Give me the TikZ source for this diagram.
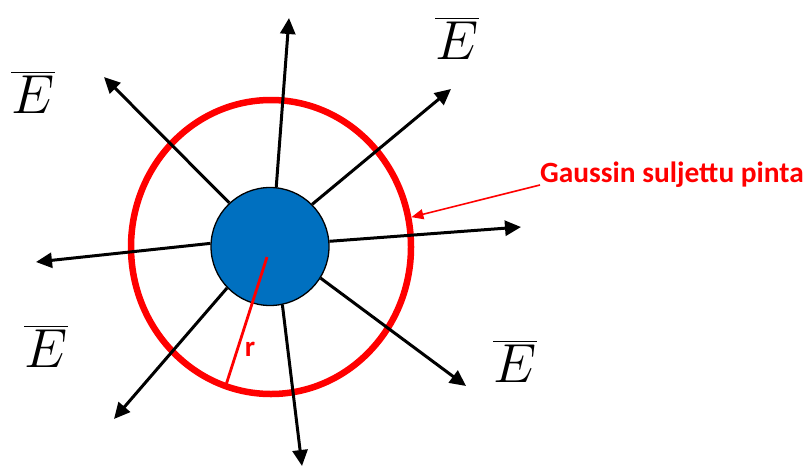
\RequirePackage{fix-cm}
\documentclass[tikz,border=0pt]{standalone}
\usepackage{fontspec}
\usepackage{amsmath}
\newfontfamily\calib{Carlito}
\usetikzlibrary{arrows.meta,positioning,shapes.geometric}
\definecolor{gauss}{HTML}{FF0000}
\definecolor{charge}{HTML}{0070C0}
\begin{document}
\begin{tikzpicture}[x=1pt,y=-1pt,
 field/.style={line width=3pt,-{Triangle[length=16pt,width=15pt]}},
 efield/.style={inner sep=0pt,font=\fontsize{55}{60}\selectfont},
 surface/.style={ellipse,draw=gauss,line width=6.5pt,inner sep=0pt,
 minimum width=280pt,minimum height=294pt},
 q/.style={circle,draw=black,line width=1.3pt,fill=charge,minimum size=118pt,inner sep=0pt},
 note/.style={text=gauss,inner sep=0pt,font=\calib\bfseries\fontsize{29.4}{34}\selectfont}]
\useasboundingbox (0,0) rectangle (805,466);
\node[surface] (surf) at (271,247) {};
\node[q] (q) at (270,246.5) {};
\coordinate (up) at (289,18); \coordinate (ur) at (451,89);
\coordinate (rt) at (521,227); \coordinate (dr) at (466,386);
\coordinate (dn) at (302,466); \coordinate (dl) at (114,419);
\coordinate (lt) at (36,262); \coordinate (ul) at (104,77);
\draw[field] (q.84)--(up); \draw[field] (q.45)--(ur);
\draw[field] (q.5)--(rt); \draw[field] (q.-32)--(dr);
\draw[field] (q.-78)--(dn); \draw[field] (q.224)--(dl);
\draw[field] (q.177)--(lt); \draw[field] (q.133)--(ul);
\coordinate (o) at (267,257); \coordinate (rim) at (226,385);
\draw[gauss,line width=2.8pt] (o)--(rim);
\node[text=gauss,font=\calib\bfseries\fontsize{29}{32}\selectfont] (rl) at (250,349) {r};
\node[note,anchor=base west] (gname) at (540,182) {Gaussin suljettu pinta};
\draw[gauss,line width=1.6pt,-{Triangle[length=12pt,width=10pt]}] ([yshift=-3pt]gname.base west)--(surf.12);
\node[efield] (e1) at (33,92) {$\overline{E}$};
\node[efield] (e2) at (457,38) {$\overline{E}$};
\node[efield] (e3) at (46,346) {$\overline{E}$};
\node[efield] (e4) at (515,361) {$\overline{E}$};
\end{tikzpicture}
\end{document}
